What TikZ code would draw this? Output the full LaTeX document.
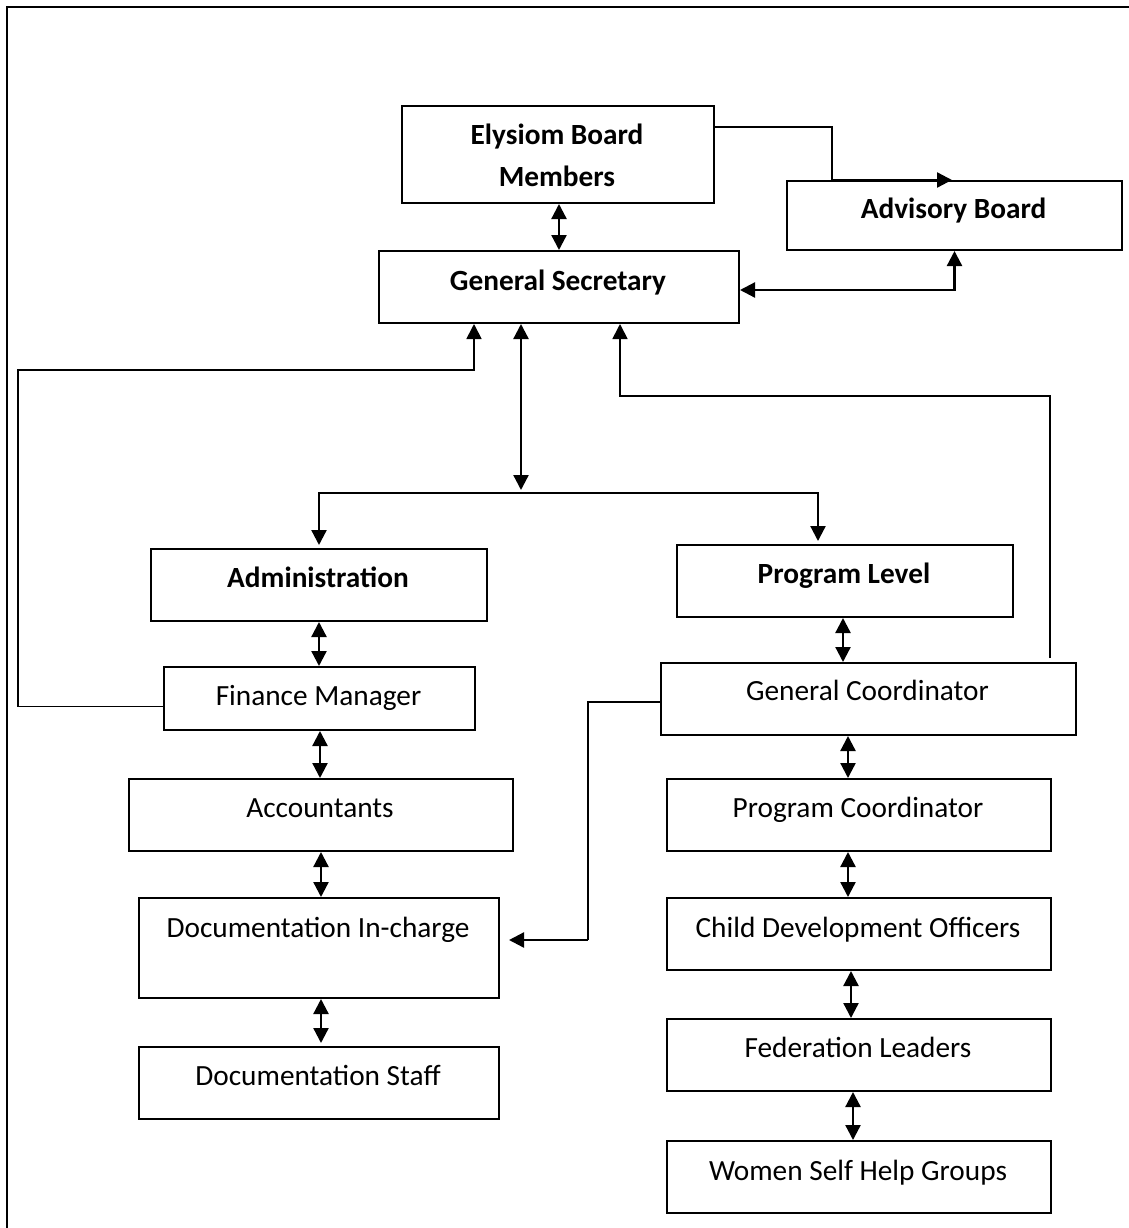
\documentclass[tikz,border=0pt]{standalone}
\usepackage{fontspec}
\setmainfont{Carlito}
\usetikzlibrary{arrows.meta,calc}
\begin{document}
\begin{tikzpicture}[x=1pt,y=-1pt,
  box/.style={draw, line width=2pt, rectangle, inner sep=0pt, anchor=north west},
  txt/.style={anchor=base, inner sep=0pt, font=\fontsize{29.3}{35}\selectfont},
  btxt/.style={txt, font=\fontsize{29.3}{35}\selectfont\bfseries},
  tip/.tip={Triangle[length=15pt,width=15pt]},
  dbl/.style={tip-tip, line width=2.3pt},
  arr/.style={-tip, line width=2.3pt},
  thinline/.style={line width=1.7pt},
  thinarr/.style={-tip, line width=1.7pt}]
\useasboundingbox (0,0) rectangle (1129,1228);
\draw[line width=2pt] (7,7) rectangle (1145,1245);

% boxes
\node[box, minimum width=312, minimum height=97] (ebm) at (401,105) {};
\node[box, minimum width=335, minimum height=69] (adv) at (786,180) {};
\node[box, minimum width=360, minimum height=72] (gs) at (378,250) {};
\node[box, minimum width=336, minimum height=72] (adm) at (150,548) {};
\node[box, minimum width=336, minimum height=72] (pl) at (676,544) {};
\node[box, minimum width=311, minimum height=63] (fm) at (163,666) {};
\node[box, minimum width=415, minimum height=72] (gc) at (660,662) {};
\node[box, minimum width=384, minimum height=72] (acc) at (128,778) {};
\node[box, minimum width=384, minimum height=72] (pc) at (666,778) {};
\node[box, minimum width=360, minimum height=100] (dic) at (138,897) {};
\node[box, minimum width=384, minimum height=72] (cdo) at (666,897) {};
\node[box, minimum width=360, minimum height=72] (ds) at (138,1046) {};
\node[box, minimum width=384, minimum height=72] (fl) at (666,1018) {};
\node[box, minimum width=384, minimum height=72] (wsh) at (666,1140) {};

% texts
\node[btxt] (ebmt1) at (557,144.5) {Elysiom Board};
\node[btxt] (ebmt2) at (557,186.5) {Members};
\node[btxt] (advt) at (953.5,218.5) {Advisory Board};
\node[btxt] (gst) at (558,290.5) {General Secretary};
\node[btxt] (admt) at (318,587.5) {Administration};
\node[btxt] (plt) at (844,583.5) {Program Level};
\node[txt] (fmt) at (318.5,705.5) {Finance Manager};
\node[txt] (gct) at (867.5,700.5) {General Coordinator};
\node[txt] (acct) at (320,817.5) {Accountants};
\node[txt] (pct) at (858,817.5) {Program Coordinator};
\node[txt] (dict) at (318,937.5) {Documentation In-charge};
\node[txt] (cdot) at (858,937.5) {Child Development Officers};
\node[txt] (dst) at (318,1085.5) {Documentation Staff};
\node[txt] (flt) at (858,1057.5) {Federation Leaders};
\node[txt] (wsht) at (858,1180.5) {Women Self Help Groups};

% top connectors
\draw[dbl] ($(ebm.south west)+(158,0)$) -- ($(gs.north west)+(181,0)$);
\draw[arr] ($(ebm.north east)+(0,22)$) -| ($(adv.north west)+(46,0)$) -- ($(adv.north west)+(166,0)$);
\draw[dbl] (adv.south) |- ($(gs.east)+(0,3)$);

% left feedback line
\coordinate (lc) at (18,370);
\draw[thinarr] ($(fm.west)+(0,8)$) -| (lc) -| ($(gs.south west)+(96,0)$);

% right feedback line
\draw[thinarr] ($(gc.north west)+(390,-4)$) |- ($(gs.south west)+(242,72)$) -- ($(gs.south west)+(242,0)$);

% central split
\coordinate (br) at (521,493);
\draw[dbl] ($(gs.south west)+(143,0)$) -- ($(br)+(0,-3)$);
\draw[arr] (br) -| ($(adm.north)+(0,-3)$);
\draw[arr] (br) -| ($(pl.north west)+(142,-3)$);

% admin column
\draw[dbl] (adm.south) -- (adm.south |- fm.north);
\coordinate (a2) at ($(acc.north west)+(192,0)$);
\draw[dbl] (fm.south -| a2) -- (a2);
\coordinate (a3) at ($(dic.north west)+(183,0)$);
\draw[dbl] (acc.south -| a3) -- (a3);
\coordinate (a4) at ($(ds.north west)+(183,-3)$);
\draw[dbl] (dic.south -| a4) -- (a4);

% program column
\draw[dbl] ($(pl.south west)+(167,0)$) -- ($(gc.north west)+(183,0)$);
\coordinate (b2) at ($(pc.north west)+(182,0)$);
\draw[dbl] (gc.south -| b2) -- (b2);
\coordinate (b3) at ($(cdo.north west)+(182,0)$);
\draw[dbl] (pc.south -| b3) -- (b3);
\coordinate (b4) at ($(fl.north west)+(185,0)$);
\draw[dbl] (cdo.south -| b4) -- (b4);
\coordinate (b5) at ($(wsh.north west)+(187,0)$);
\draw[dbl] (fl.south -| b5) -- (b5);

% GC to documentation in-charge
\coordinate (dj) at ($(dic.north east)+(88,43)$);
\draw[thinline] ($(gc.west)+(0,3)$) -| (dj);
\draw[arr] (dj) -- ($(dic.north east)+(9,43)$);
\end{tikzpicture}
\end{document}
